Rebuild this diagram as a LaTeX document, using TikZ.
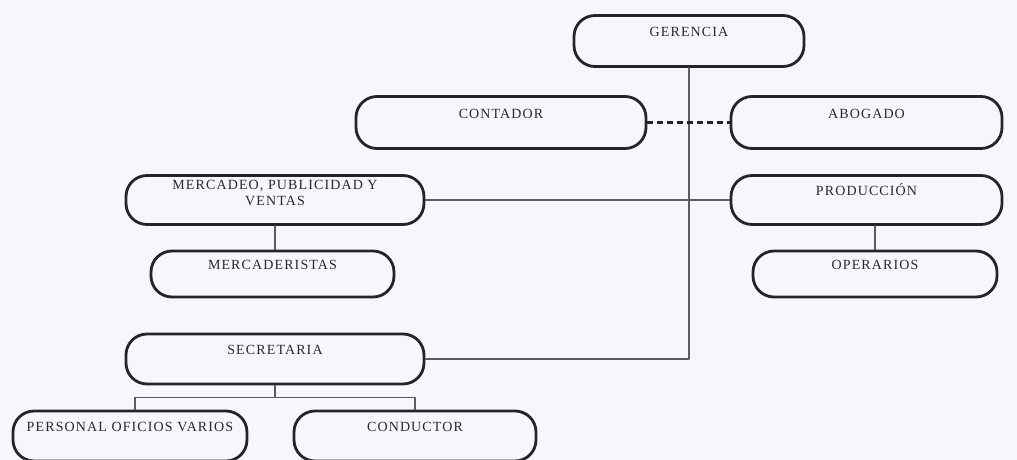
\documentclass[tikz,border=0pt]{standalone}
\usepackage{fontspec}
\setmainfont{Liberation Serif}[LetterSpace=8]
\definecolor{fondo}{HTML}{F6F7FA}
\definecolor{borde}{HTML}{2A2326}
\definecolor{conector}{HTML}{5C5C60}
\definecolor{texto}{HTML}{2A282A}
\begin{document}
\begin{tikzpicture}[x=1pt, y=-1pt, line join=round, line cap=round,
    font=\fontsize{14}{16}\selectfont,
    caja/.style={draw=borde, line width=2.8pt, rounded corners=21pt, text=texto,
        align=center, text height=9pt, text depth=18pt, inner sep=1pt},
    linea/.style={draw=conector, line width=1.3pt}]
    \def\ancho{1017} \def\alto{460}
    \useasboundingbox[fill=fondo] (0,0) rectangle (\ancho,\alto);
    \clip (0,0) rectangle (\ancho,\alto);

    % Cajas
    \node[caja, minimum width=230pt, minimum height=51pt] (ger) at (689,41) {GERENCIA};
    \node[caja, minimum width=290pt, minimum height=52pt] (cont) at (501,122.5) {CONTADOR};
    \node[caja, minimum width=271pt, minimum height=52pt] (abog) at (866.5,122.5) {ABOGADO};
    \node[caja, minimum width=298pt, minimum height=49pt, text height=25pt, text depth=14pt] (merc) at (275,200) {MERCADEO, PUBLICIDAD Y\\VENTAS};
    \node[caja, minimum width=271pt, minimum height=49pt] (prod) at (866.5,200) {PRODUCCIÓN};
    \node[caja, minimum width=243pt, minimum height=46pt] (mcd) at (272.5,274) {MERCADERISTAS};
    \node[caja, minimum width=244pt, minimum height=46pt] (oper) at (875,274) {OPERARIOS};
    \node[caja, minimum width=298pt, minimum height=50pt] (secr) at (275,359) {SECRETARIA};
    \node[caja, minimum width=234pt, minimum height=50pt] (pers) at (130,436) {PERSONAL OFICIOS VARIOS};
    \node[caja, minimum width=242pt, minimum height=50pt] (cond) at (415,436) {CONDUCTOR};

    % Conectores
    \draw[linea] (ger.south) |- (secr.east);
    \draw[draw=borde, line width=2.4pt, dash pattern=on 6pt off 4pt, line cap=butt] (cont.east) -- (abog.west);
    \draw[linea] (merc.east) -- (prod.west);
    \draw[linea] (merc.south) -- (merc.south |- mcd.north);
    \draw[linea] (oper.north |- prod.south) -- (oper.north);
    \path (secr.south) ++(0,12) coordinate (rama);
    \draw[linea] (secr.south) -- (rama);
    \path (pers.north) ++(5,0) coordinate (ramaA);
    \draw[linea] (ramaA) |- (rama) -| (cond.north);
\end{tikzpicture}
\end{document}
